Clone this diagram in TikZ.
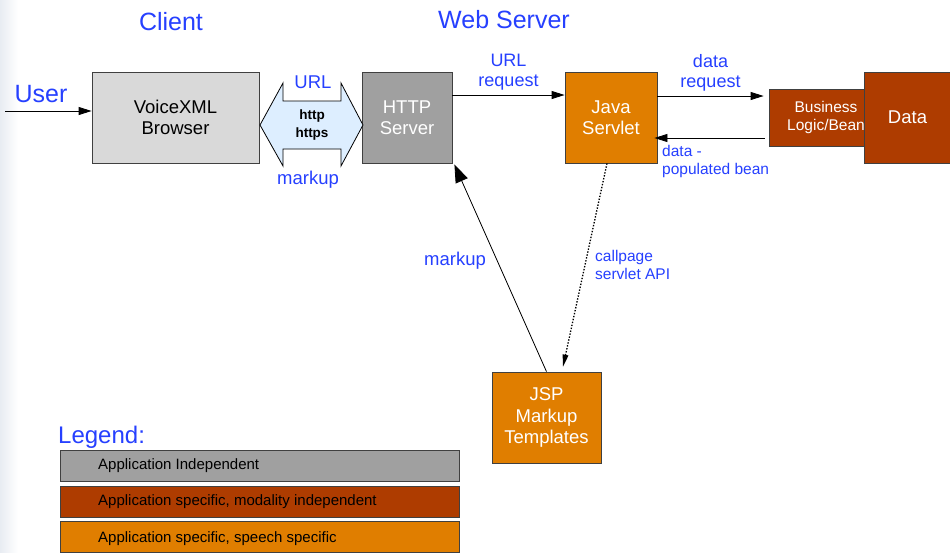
\documentclass[tikz,border=0pt]{standalone}
\usepackage{fontspec}
\setmainfont{Liberation Sans}
\usetikzlibrary{arrows.meta,calc}
\definecolor{lblue}{RGB}{38,64,255}
\definecolor{boxgray}{RGB}{217,217,217}
\definecolor{srvgray}{RGB}{160,160,160}
\definecolor{rust}{RGB}{174,60,0}
\definecolor{amber}{RGB}{224,126,0}
\definecolor{pipe}{RGB}{221,238,255}
\definecolor{edge}{RGB}{232,236,242}
\tikzset{
  fs/.style={font={\pgfmathsetmacro\bsk{#1*1.15}\fontsize{#1}{\bsk}\selectfont}},
  bluelabel/.style={text=lblue, align=center, inner sep=0pt},
  block/.style={draw=black!75, line width=0.8pt, align=center, inner sep=0pt},
  arr/.style={-{Triangle[length=13pt,width=8pt]}, line width=0.8pt},
  bigarr/.style={-{Triangle[length=18pt,width=13pt]}, line width=0.8pt},
  dotarr/.style={-{Triangle[length=12pt,width=6pt,line width=0pt]}, line width=1.3pt, dash pattern=on 1.4pt off 1.6pt},
  legendbox/.style={draw=black!75, line width=0.8pt, minimum width=399pt, minimum height=31pt, inner sep=0pt},
  legendtext/.style={anchor=west, inner sep=0pt, fs=15}
}
\begin{document}
\begin{tikzpicture}[x=1pt,y=-1pt]
\useasboundingbox (0,0) rectangle (950,552);
\fill[white] (0,0) rectangle (950,552);
% soft edge at the left border
\shade[left color=edge, right color=white] (0,0) rectangle (18,552);

% column titles
\node[bluelabel, fs=25] (client) at (171,22) {Client};
\node[bluelabel, fs=25] (webserver) at (504,20) {Web Server};
\node[bluelabel, fs=25] (user) at (41,94) {User};
\coordinate (userstart) at (5,111);

% boxes of the upper row
\node[block, fill=boxgray, minimum width=167pt, minimum height=91pt, fs=18.5] (vxml) at (175.5,117.5) {VoiceXML\\Browser};
\node[block, fill=srvgray, text=white, minimum width=90pt, minimum height=91pt, fs=18.5] (http) at (407,117.5) {HTTP\\Server};
\node[block, fill=amber, text=white, minimum width=92pt, minimum height=91pt, fs=18.5] (servlet) at (611,117.5) {Java\\Servlet};
\node[block, fill=rust, text=white, minimum width=114pt, minimum height=57pt, fs=15.5] (logic) at (826,117.5) {Business\\Logic/Bean};
\node[block, fill=rust, text=white, minimum width=86pt, minimum height=91pt, fs=18.5] (data) at (907.5,117.5) {Data};
\node[block, fill=amber, text=white, minimum width=109pt, minimum height=91pt, fs=18.5] (jsp) at (546.5,417.5) {JSP\\Markup\\Templates};

% protocol pipe between browser and server
\filldraw[fill=pipe, draw=black, line width=0.8pt]
  (260,125) -- (283,83) -- (283,101) -- (341,101) -- (341,83) -- (363,125)
  -- (341,166) -- (341,149) -- (283,149) -- (283,166) -- cycle;
\node[align=center, inner sep=0pt, font=\bfseries\fontsize{13.5}{18}\selectfont] (proto) at (312,125) {http\\https};
\node[bluelabel, fs=18.5] (urllab) at (313,82) {URL};
\node[bluelabel, fs=18.5] (markuplab) at (308,180) {markup};

% connectors
\draw[arr] (userstart) -- (vxml.west |- userstart);
\draw[arr] ([yshift=22.5pt]http.east) -- ([yshift=22.5pt]servlet.west)
  node[midway, above=4pt, bluelabel, fs=18] (urlreq) {URL\\request};
\draw[arr] ([yshift=21.5pt]servlet.east) -- ([xshift=-5pt,yshift=21.5pt]logic.west)
  node[midway, above=4pt, bluelabel, fs=18] (datareq) {data\\request};
\draw[arr] ([xshift=-4pt,yshift=-20.5pt]logic.west) -- ([xshift=-3pt,yshift=-20.5pt]servlet.east);
\node[anchor=north west, align=left, text=lblue, inner sep=0pt, fs=15.5] (beanlab) at (662,145) {data -\\populated bean};

\draw[dotarr] ([xshift=-4pt]servlet.south) -- ([xshift=16.5pt,yshift=5pt]jsp.north);
\node[anchor=west, align=left, text=lblue, inner sep=0pt, fs=15.5] (apilab) at (595,265) {callpage\\servlet API};

\draw[bigarr] (jsp.north) -- ([xshift=2pt,yshift=-1pt]http.south east);
\node[bluelabel, fs=18.5] (markup2) at (455,261) {markup};

% legend
\node[bluelabel, fs=24, anchor=west] (legend) at (58,437) {Legend:};
\node[legendbox, fill=srvgray] (lg1) at (259.5,466) {};
\node[legendtext] at (98,466) {Application Independent};
\node[legendbox, fill=rust] (lg2) at (259.5,502) {};
\node[legendtext] at (98,502) {Application specific, modality independent};
\node[legendbox, fill=amber] (lg3) at (260,537) {};
\node[legendtext] at (98,539) {Application specific, speech specific};
\end{tikzpicture}
\end{document}
